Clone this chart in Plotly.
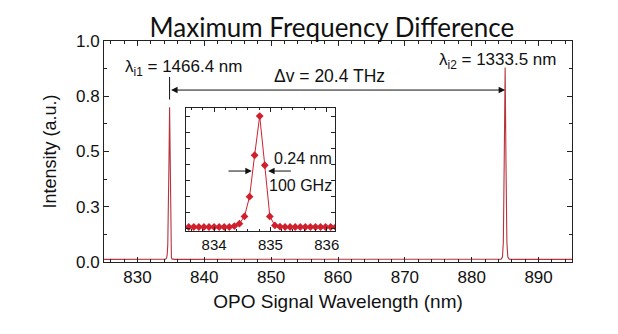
import plotly.graph_objects as go

# ---------------- data ----------------
main_wl = [825.0, 833.5, 834.2, 834.36, 834.45, 834.54, 834.63, 834.72, 834.81, 834.90,
           834.99, 835.08, 835.17, 835.5, 836.5, 883.5, 884.4, 884.6, 884.73, 884.86,
           885.0, 885.13, 885.26, 885.4, 885.6, 886.5, 895.0]
main_int = [0.012, 0.012, 0.013, 0.018, 0.033, 0.078, 0.20, 0.457, 0.70, 0.395,
            0.078, 0.022, 0.014, 0.012, 0.012, 0.012, 0.013, 0.022, 0.09, 0.45,
            0.88, 0.44, 0.09, 0.022, 0.013, 0.012, 0.012]

inset_wl = [833.55, 833.64, 833.73, 833.82, 833.91, 834.00, 834.09, 834.18, 834.27, 834.36,
            834.45, 834.54, 834.63, 834.72, 834.81, 834.90, 834.99, 835.08, 835.17, 835.26,
            835.35, 835.44, 835.53, 835.62, 835.71, 835.80, 835.89, 835.98, 836.07, 836.16]
inset_int = [0.012, 0.012, 0.012, 0.012, 0.012, 0.012, 0.012, 0.012, 0.012, 0.018,
             0.033, 0.078, 0.20, 0.457, 0.70, 0.395, 0.078, 0.022, 0.014, 0.012,
             0.012, 0.012, 0.012, 0.012, 0.012, 0.012, 0.012, 0.012, 0.012, 0.012]

y_tickvals = [0.0, 0.25, 0.5, 0.75, 1.0]
y_ticktext = ["0.0", "0.3", "0.5", "0.8", "1.0"]
x_tickvals = [830, 840, 850, 860, 870, 880, 890]
inset_tickvals = [834, 835, 836]

peak1_wl = 834.81
peak2_wl = 885.0

FONT = "Liberation Sans, Arial, sans-serif"
LINE_RED = "#b8323c"
MARK_RED = "#d0202e"

fig = go.Figure()
fig.add_trace(go.Scatter(x=main_wl, y=main_int, mode="lines",
                         line=dict(color=LINE_RED, width=1.1), xaxis="x", yaxis="y",
                         showlegend=False, hoverinfo="skip"))
fig.add_trace(go.Scatter(x=inset_wl, y=inset_int, mode="lines+markers",
                         line=dict(color=MARK_RED, width=1),
                         marker=dict(symbol="diamond", size=6, color=MARK_RED),
                         xaxis="x2", yaxis="y2", showlegend=False, hoverinfo="skip"))

axis_common = dict(showline=True, linecolor="#222", linewidth=1, mirror="ticks",
                   ticks="inside", tickcolor="#222", showgrid=False, zeroline=False)

fig.update_layout(
    width=618, height=334,
    margin=dict(l=104, r=46, t=41, b=72),
    paper_bgcolor="white", plot_bgcolor="white",
    font=dict(family=FONT, size=17, color="#111"),
    title=dict(text="Maximum Frequency Difference", x=0.537, xanchor="center",
               y=0.915, yanchor="middle",
               font=dict(family="Lato, Carlito, sans-serif", size=26, color="#111")),
    xaxis=dict(range=[825, 895], tickvals=x_tickvals, ticklen=5,
               minor=dict(dtick=2, ticks="inside", ticklen=3, tickcolor="#222"),
               title=dict(text="OPO Signal Wavelength (nm)", standoff=8,
                          font=dict(size=19)),
               tickfont=dict(size=17), **axis_common),
    yaxis=dict(range=[0, 1.0], tickvals=y_tickvals, ticktext=y_ticktext, ticklen=5,
               minor=dict(dtick=0.125, ticks="inside", ticklen=3, tickcolor="#222"),
               title=dict(text="Intensity (a.u.)", standoff=14, font=dict(size=18)),
               tickfont=dict(size=17), **axis_common),
    xaxis2=dict(domain=[0.175, 0.494], anchor="y2", range=[833.5, 836.15],
                tickvals=inset_tickvals, ticklen=4, tickfont=dict(size=15),
                minor=dict(dtick=0.2, ticks="inside", ticklen=2, tickcolor="#222"),
                **axis_common),
    yaxis2=dict(domain=[0.140, 0.697], anchor="x2", range=[-0.013, 0.75],
                dtick=0.1, tick0=0, ticklen=4, showticklabels=False,
                **axis_common),
)

# main annotations
fig.add_annotation(x=836.9, y=0.878, xref="x", yref="y", showarrow=False,
                   text="λ<sub>i1</sub> = 1466.4 nm", font=dict(size=17))
fig.add_annotation(x=883.9, y=0.91, xref="x", yref="y", showarrow=False,
                   text="λ<sub>i2</sub> = 1333.5 nm", font=dict(size=17))
fig.add_annotation(x=858.7, y=0.842, xref="x", yref="y", showarrow=False,
                   text="Δv = 20.4 THz", font=dict(size=17.5))
# double headed arrow between peaks
fig.add_annotation(x=peak2_wl, y=0.778, ax=peak1_wl, ay=0.778, xref="x", yref="y",
                   axref="x", ayref="y", text="", showarrow=True, arrowhead=2,
                   startarrowhead=2, arrowside="end+start", arrowsize=1.3,
                   startarrowsize=1.3, arrowwidth=1, arrowcolor="#111",
                   standoff=0, startstandoff=0)
fig.add_shape(type="line", x0=peak1_wl, x1=peak1_wl, y0=0.735, y1=0.837,
              xref="x", yref="y", line=dict(color="#111", width=1))

# inset annotations (FWHM arrows)
fig.add_annotation(x=834.67, y=0.359, ax=834.23, ay=0.359, xref="x2", yref="y2",
                   axref="x2", ayref="y2", text="", showarrow=True, arrowhead=2,
                   arrowsize=1.3, arrowwidth=1, arrowcolor="#111", standoff=0)
fig.add_annotation(x=834.96, y=0.359, ax=835.39, ay=0.359, xref="x2", yref="y2",
                   axref="x2", ayref="y2", text="", showarrow=True, arrowhead=2,
                   arrowsize=1.3, arrowwidth=1, arrowcolor="#111", standoff=0)
fig.add_annotation(x=836.13, y=0.434, xref="x2", yref="y2", xanchor="right",
                   showarrow=False, text="0.24 nm", font=dict(size=16))
fig.add_annotation(x=836.13, y=0.272, xref="x2", yref="y2", xanchor="right",
                   showarrow=False, text="100 GHz", font=dict(size=16))

fig.write_html("out.html")
